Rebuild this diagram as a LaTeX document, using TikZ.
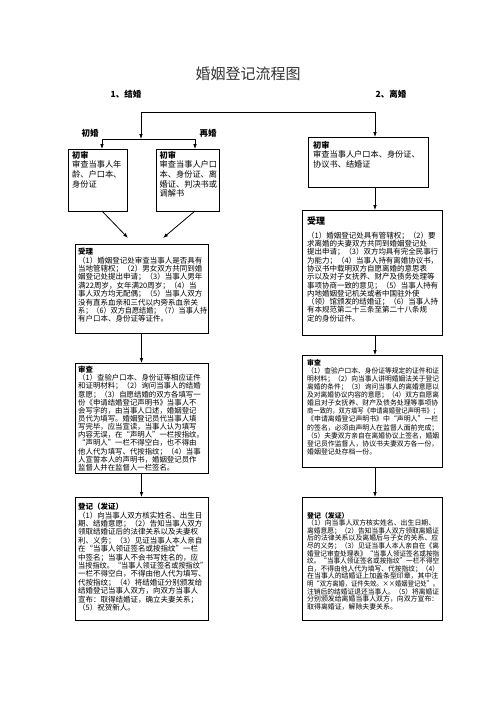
\documentclass[tikz,border=0pt]{standalone}
\usepackage{fontspec}
\setmainfont{Noto Sans CJK SC}
\usepackage{graphicx}
\usetikzlibrary{arrows.meta}
\setlength\parindent{0pt}
\newlength\flw
\newsavebox\flbox
\newcommand\fl[1]{\sbox\flbox{#1}\ifdim\wd\flbox>\flw\resizebox{\flw}{\height}{\usebox\flbox}\else\usebox\flbox\fi}
\begin{document}
\begin{tikzpicture}[x=1pt,y=-1pt,
 frame/.style={draw, line width=0.9pt, anchor=north west, inner sep=0pt, outer sep=0pt},
 body/.style={anchor=north west, inner sep=0pt, align=left, text width=\flw, text=black},
 arr/.style={-{Latex[length=5pt,width=3.6pt]}, line width=0.8pt},
 con/.style={line width=0.8pt},
 lab/.style={font=\fontsize{8.5}{9}\selectfont\bfseries, inner sep=0pt},
 fA/.style={font=\fontsize{8.2}{9.6}\selectfont},
 fL/.style={font=\fontsize{7.5}{8.4}\selectfont},
 fL3/.style={font=\fontsize{7.4}{8.15}\selectfont},
 fR2/.style={font=\fontsize{7.5}{8.3}\selectfont},
 fR3/.style={font=\fontsize{6.9}{8.1}\selectfont},
 fR4/.style={font=\fontsize{6.9}{7.6}\selectfont}
]
\fill[white] (0,0) rectangle (496,702);
\useasboundingbox (0,0) rectangle (496,702);

\node[font=\fontsize{15}{15}\selectfont, text=black!80] (title) at (248,74) {婚姻登记流程图};
\node[lab] (jh) at (126,94) {1、结婚};
\node[lab] (lh) at (391,94) {2、离婚};
\node[lab] (ch) at (90,133) {初婚};
\node[lab] (zh) at (208,133) {再婚};

\node[frame, minimum width=59pt, minimum height=62pt] (A) at (68,149) {};
\node[frame, minimum width=63pt, minimum height=62pt] (B) at (156,149) {};
\node[frame, minimum width=120pt, minimum height=50pt] (R1) at (308,137) {};
\node[frame, minimum width=133pt, minimum height=89pt] (L2) at (75,244) {};
\node[frame, minimum width=133pt, minimum height=110pt] (L3) at (75,363) {};
\node[frame, minimum width=133pt, minimum height=123pt] (L4) at (75,497) {};
\node[frame, minimum width=140pt, minimum height=125pt] (R2) at (302,210) {};
\node[frame, minimum width=140pt, minimum height=112pt] (R3) at (302,355) {};
\node[frame, minimum width=140pt, minimum height=123pt] (R4) at (302,497) {};

\coordinate (T1) at (141,112);
\coordinate (T2) at (375,112);
\coordinate (J) at (141,139);
\coordinate (Ja) at (102,139);
\coordinate (Jb) at (195,139);
\coordinate (D1) at (128,238);
\coordinate (D2) at (163,238);
\draw[con] (T1) -- (T2);
\draw[arr] (T1) -- (J);
\draw[con] (Ja) -- (Jb);
\draw[arr] (Ja) -- (Ja |- A.north);
\draw[arr] (Jb) -- (Jb |- B.north);
\draw[arr] (T2) -- (T2 |- R1.north);
\draw[arr] (Ja |- A.south) -- (D1);
\draw[arr] (Jb |- B.south) -- (D2);
\draw[arr] (L2.south) -- (L3.north);
\draw[arr] (L3.south) -- (L4.north);
\draw[arr] (T2 |- R1.south) -- (T2 |- R2.north);
\draw[arr] (T2 |- R2.south) -- (T2 |- R3.north);
\draw[arr] (T2 |- R3.south) -- (T2 |- R4.north);

\setlength\flw{57pt}
\node[body, fA] (tA) at (72,151) {\textbf{初审}\\审查当事人年\\龄、户口本、\\身份证};
\node[body, fA] (tB) at (159.5,151) {\textbf{初审}\\审查当事人户口\\本、身份证、离\\婚证、判决书或\\调解书};
\setlength\flw{112pt}
\node[body, fA] (tR1) at (313,141) {\textbf{初审}\\审查当事人户口本、身份证、\\协议书、结婚证};

\setlength\flw{129pt}
\node[body, fL] (tL2) at (78,248) {\textbf{受理}\\
\fl{（1）婚姻登记处审查当事人是否具有}\\
\fl{当地管辖权；（2）男女双方共同到婚}\\
\fl{姻登记处提出申请；（3）当事人男年}\\
\fl{满22周岁，女年满20周岁；（4）当}\\
\fl{事人双方均无配偶；（5）当事人双方}\\
\fl{没有直系血亲和三代以内旁系血亲关}\\
\fl{系；（6）双方自愿结婚；（7）当事人持}\\
\fl{有户口本、身份证等证件。}};

\node[body, fL3] (tL3) at (78,366) {\textbf{审查}\\
\fl{（1）查验户口本、身份证等相应证件}\\
\fl{和证明材料；（2）询问当事人的结婚}\\
\fl{意愿；（3）自愿结婚的双方各填写一}\\
\fl{份《申请结婚登记声明书》当事人不}\\
\fl{会写字的，由当事人口述，婚姻登记}\\
\fl{员代为填写。婚姻登记员代当事人填}\\
\fl{写完毕，应当宣读，当事人认为填写}\\
\fl{内容无误，在“声明人”一栏按指纹。}\\
\fl{“声明人”一栏不得空白，也不得由}\\
\fl{他人代为填写、代按指纹；（4）当事}\\
\fl{人宣誓本人的声明书，婚姻登记员作}\\
\fl{监督人并在监督人一栏签名。}};

\node[body, fL] (tL4) at (78,503) {\textbf{登记（发证）}\\
\fl{（1）向当事人双方核实姓名、出生日}\\
\fl{期、结婚意愿；（2）告知当事人双方}\\
\fl{领取结婚证后的法律关系以及夫妻权}\\
\fl{利、义务；（3）见证当事人本人亲自}\\
\fl{在“当事人领证签名或按指纹”一栏}\\
\fl{中签名；当事人不会书写姓名的，应}\\
\fl{当按指纹。“当事人领证签名或按指纹”}\\
\fl{一栏不得空白，不得由他人代为填写、}\\
\fl{代按指纹；（4）将结婚证分别颁发给}\\
\fl{结婚登记当事人双方，向双方当事人}\\
\fl{宣布：取得结婚证，确立夫妻关系；}\\
\fl{（5）祝贺新人。}};

\setlength\flw{131pt}
\node[body, fR2] (tR2) at (307,217) {{\fontsize{9}{10}\selectfont\bfseries 受理}\\[5pt]
\fl{（1）婚姻登记处具有管辖权；（2）要}\\
\fl{求离婚的夫妻双方共同到婚姻登记处}\\
\fl{提出申请；（3）双方均具有完全民事行}\\
\fl{为能力；（4）当事人持有离婚协议书，}\\
\fl{协议书中载明双方自愿离婚的意思表}\\
\fl{示以及对子女抚养、财产及债务处理等}\\
\fl{事项协商一致的意见；（5）当事人持有}\\
\fl{内地婚姻登记机关或者中国驻外使}\\
\fl{（领）馆颁发的结婚证；（6）当事人持}\\
\fl{有本规范第二十三条至第二十八条规}\\
\fl{定的身份证件。}};

\setlength\flw{132pt}
\node[body, fR3] (tR3) at (307,359) {\textbf{审查}\\
\fl{（1）查验户口本、身份证等规定的证件和证}\\
\fl{明材料；（2）向当事人讲明婚姻法关于登记}\\
\fl{离婚的条件；（3）询问当事人的离婚意愿以}\\
\fl{及对离婚协议内容的意愿；（4）双方自愿离}\\
\fl{婚且对子女抚养、财产及债务处理等事项协}\\
\fl{商一致的，双方填写《申请离婚登记声明书》；}\\
\fl{《申请离婚登记声明书》中“声明人”一栏}\\
\fl{的签名，必须由声明人在监督人面前完成；}\\
\fl{（5）夫妻双方亲自在离婚协议上签名，婚姻}\\
\fl{登记员作监督人，协议书夫妻双方各一份，}\\
\fl{婚姻登记处存档一份。}};

\node[body, fR4] (tR4) at (307,512) {\textbf{登记（发证）}\\
\fl{（1）向当事人双方核实姓名、出生日期、}\\
\fl{离婚意愿；（2）告知当事人双方领取离婚证}\\
\fl{后的法律关系以及离婚后与子女的关系、应}\\
\fl{尽的义务；（3）见证当事人本人亲自在《离}\\
\fl{婚登记审查处理表》“当事人领证签名或按指}\\
\fl{纹。“当事人领证签名或按指纹”一栏不得空}\\
\fl{白，不得由他人代为填写、代按指纹；（4）}\\
\fl{在当事人的结婚证上加盖条型印章，其中注}\\
\fl{明“双方离婚，证件失效。××婚姻登记处”。}\\
\fl{注销后的结婚证退还当事人。（5）将离婚证}\\
\fl{分别颁发给离婚当事人双方，向双方宣布：}\\
\fl{取得离婚证，解除夫妻关系。}};
\end{tikzpicture}
\end{document}
